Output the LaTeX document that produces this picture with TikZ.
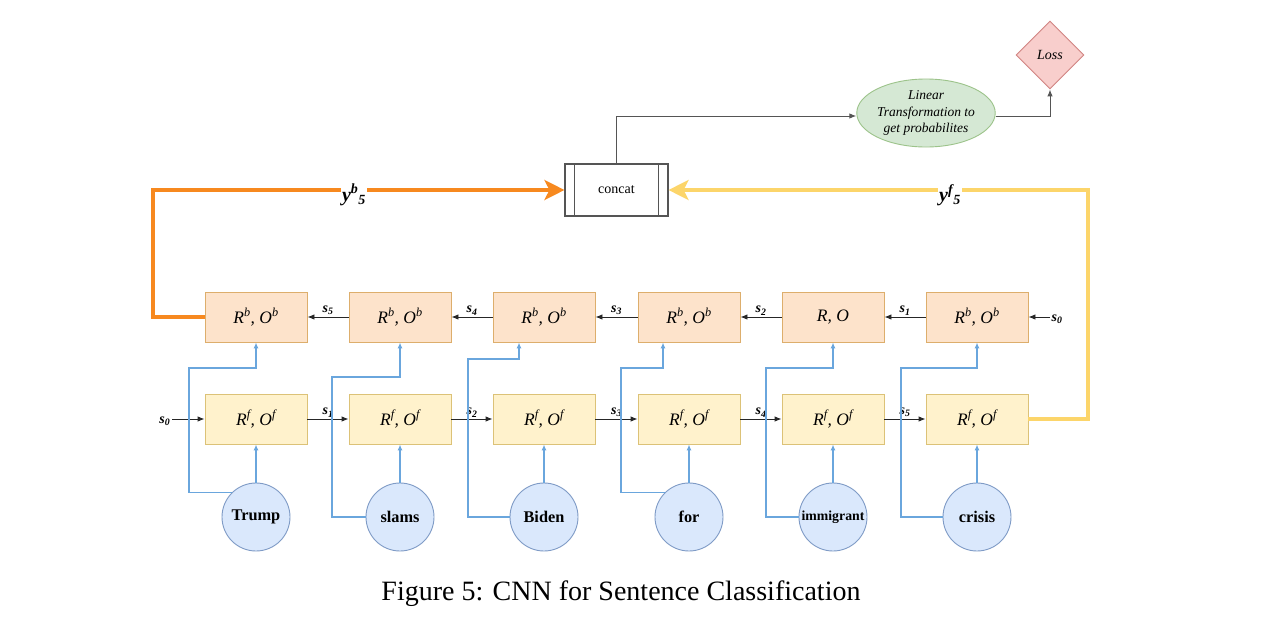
\documentclass[tikz,border=0pt]{standalone}
\usepackage{fontspec}
\setmainfont{Liberation Serif}
\usetikzlibrary{arrows.meta,shapes.geometric}
\definecolor{backfill}{HTML}{FDE3CB}
\definecolor{backdraw}{HTML}{DDAE6C}
\definecolor{fwdfill}{HTML}{FFF2CC}
\definecolor{fwddraw}{HTML}{DCC277}
\definecolor{wordfill}{HTML}{DAE8FC}
\definecolor{worddraw}{HTML}{7F9BC6}
\definecolor{ellfill}{HTML}{D5E8D4}
\definecolor{elldraw}{HTML}{9CC38A}
\definecolor{lossfill}{HTML}{F8CECC}
\definecolor{lossdraw}{HTML}{D08482}
\definecolor{blueline}{HTML}{6AA6DD}
\definecolor{orangeline}{HTML}{F7891F}
\definecolor{yellowline}{HTML}{FCD56A}
\definecolor{greyline}{HTML}{555555}
\newcommand{\stt}[1]{s\textsubscript{#1}}
\tikzset{
  backbox/.style={draw=backdraw, fill=backfill, minimum width=102pt, minimum height=50pt,
    inner sep=0pt, line width=0.9pt, font=\fontsize{17.5}{20}\selectfont\itshape},
  fwdbox/.style={draw=fwddraw, fill=fwdfill, minimum width=102pt, minimum height=50pt,
    inner sep=0pt, line width=0.9pt, font=\fontsize{17.5}{20}\selectfont\itshape},
  word/.style={circle, draw=worddraw, fill=wordfill, minimum size=68pt, inner sep=0pt,
    line width=0.9pt, font=\fontsize{16.3}{18}\selectfont\bfseries},
  blk/.style={draw=black!85, line width=0.9pt, -{Latex[length=7pt,width=5.5pt]}},
  gry/.style={draw=greyline, line width=1pt, -{Latex[length=7pt,width=5.5pt]}},
  blu/.style={draw=blueline, line width=1.2pt, -{Latex[length=6pt,width=5pt]}},
  slab/.style={font=\fontsize{14}{14}\selectfont\bfseries\itshape, inner sep=1.5pt},
  ylab/.style={font=\fontsize{20}{20}\selectfont\bfseries\itshape, fill=white, inner sep=1pt},
  thick orange/.style={draw=orangeline, line width=4pt, -{Stealth[length=20pt,width=20pt,inset=5pt]}},
  thick yellow/.style={draw=yellowline, line width=4pt, -{Stealth[length=20pt,width=20pt,inset=5pt]}},
}
\begin{document}
\begin{tikzpicture}[x=1pt,y=-1pt]
\useasboundingbox[fill=white] (0,0) rectangle (1280,635);

% backward row
\node[backbox] (b1) at (256,317) {R\textsuperscript{b}, O\textsuperscript{b}};
\node[backbox] (b2) at (400,317) {R\textsuperscript{b}, O\textsuperscript{b}};
\node[backbox] (b3) at (544,317) {R\textsuperscript{b}, O\textsuperscript{b}};
\node[backbox] (b4) at (689,317) {R\textsuperscript{b}, O\textsuperscript{b}};
\node[backbox] (b5) at (833,317) {R, O};
\node[backbox] (b6) at (977,317) {R\textsuperscript{b}, O\textsuperscript{b}};

% forward row
\node[fwdbox] (f1) at (256,419) {R\textsuperscript{f}, O\textsuperscript{f}};
\node[fwdbox] (f2) at (400,419) {R\textsuperscript{f}, O\textsuperscript{f}};
\node[fwdbox] (f3) at (544,419) {R\textsuperscript{f}, O\textsuperscript{f}};
\node[fwdbox] (f4) at (689,419) {R\textsuperscript{f}, O\textsuperscript{f}};
\node[fwdbox] (f5) at (833,419) {R\textsuperscript{f}, O\textsuperscript{f}};
\node[fwdbox] (f6) at (977,419) {R\textsuperscript{f}, O\textsuperscript{f}};

% words
\node[word] (w1) at (256,517) {Trump};
\node[word] (w2) at (400,517) {slams};
\node[word] (w3) at (544,517) {Biden};
\node[word] (w4) at (689,517) {for};
\node[word, font=\fontsize{13.8}{14}\selectfont\bfseries] (w5) at (833,517) {immigrant};
\node[word] (w6) at (977,517) {crisis};

% concat, linear, loss
\node[draw=greyline, line width=1.1pt, minimum width=103pt, minimum height=52pt, inner sep=0pt,
  font=\fontsize{14}{15}\selectfont] (c) at (616.5,190) {concat};
\draw[greyline, line width=1.1pt] ([xshift=10pt]c.north west) -- ([xshift=10pt]c.south west);
\draw[greyline, line width=1.1pt] ([xshift=-10pt]c.north east) -- ([xshift=-10pt]c.south east);
\node[ellipse, draw=elldraw, fill=ellfill, line width=0.9pt, minimum width=111pt, minimum height=68pt,
  inner sep=0pt, align=center, font=\fontsize{13.5}{16.5}\selectfont\itshape] (lin) at (926,113)
  {Linear\\Transformation to\\get probabilites};
\node[diamond, aspect=1, draw=lossdraw, fill=lossfill, line width=0.9pt, minimum width=68pt,
  minimum height=68pt, inner sep=0pt, font=\fontsize{14}{15}\selectfont\itshape] (loss) at (1050,55) {Loss};

\draw[gry] (c.north) |- ([yshift=-3pt]lin.west);
\draw[gry] ([yshift=-3pt]lin.east) -| (loss.south);

% backward arrows
\draw[blk] (b2.west) -- node[slab, above] {\stt{5}} (b1.east);
\draw[blk] (b3.west) -- node[slab, above] {\stt{4}} (b2.east);
\draw[blk] (b4.west) -- node[slab, above] {\stt{3}} (b3.east);
\draw[blk] (b5.west) -- node[slab, above] {\stt{2}} (b4.east);
\draw[blk] (b6.west) -- node[slab, above] {\stt{1}} (b5.east);
\node[slab, anchor=west] (s0b) at (1050,319) {\stt{0}};
\draw[blk] (s0b.west |- b6.east) -- (b6.east);

% forward arrows
\node[slab, anchor=east] (s0f) at (172,421) {\stt{0}};
\draw[blk] (s0f.east |- f1.west) -- (f1.west);
\draw[blk] (f1.east) -- node[slab, above] {\stt{1}} (f2.west);
\draw[blk] (f2.east) -- node[slab, above] {\stt{2}} (f3.west);
\draw[blk] (f3.east) -- node[slab, above] {\stt{3}} (f4.west);
\draw[blk] (f4.east) -- node[slab, above] {\stt{4}} (f5.west);
\draw[blk] (f5.east) -- node[slab, above] {\stt{5}} (f6.west);

% word inputs
\foreach \i in {1,...,6} { \draw[blu] (w\i.north) -- (f\i.south); }
\draw[blu] (w1.135) -| (189,368) -| (b1.south);
\draw[blu] (w2.west) -| (332,377) -| (b2.south);
\draw[blu] (w3.west) -| (468,359) -| ([xshift=-25pt]b3.south);
\draw[blu] (w4.135) -| (621,368) -| ([xshift=-26pt]b4.south);
\draw[blu] (w5.west) -| (766,368) -| (b5.south);
\draw[blu] (w6.west) -| (901,368) -| (b6.south);

% outputs to concat
\draw[thick orange] (b1.west) -- (153,317) -- (153,190) -- (c.west);
\node[ylab] at (354,195) {y\textsuperscript{b}\textsubscript{5}};
\draw[thick yellow] (f6.east) -- (1088,419) -- (1088,190) -- (c.east);
\node[ylab] at (950,195) {y\textsuperscript{f}\textsubscript{5}};

% caption
\node[font=\fontsize{28}{32}\selectfont] (cap) at (621,594) {Figure 5: CNN for Sentence Classification};
\end{tikzpicture}
\end{document}
